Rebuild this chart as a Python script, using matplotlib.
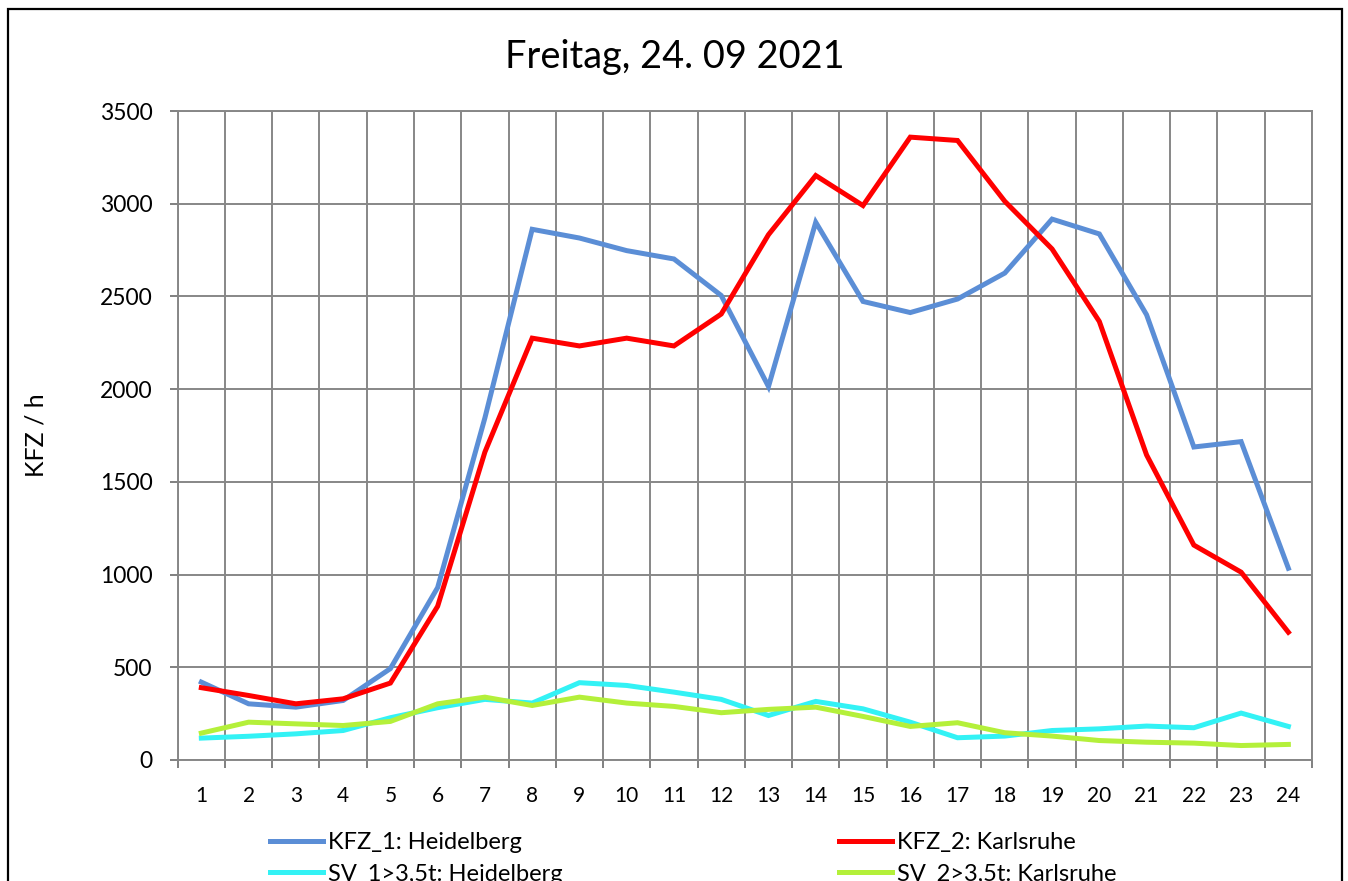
import matplotlib.pyplot as plt
from matplotlib.patches import Rectangle

plt.rcParams['font.family'] = ['Lato', 'DejaVu Sans']

hours = list(range(1, 25))
kfz_heidelberg = [420, 303, 285, 321, 493, 930, 1845, 2862, 2815, 2747, 2702, 2505,
                  2014, 2900, 2473, 2413, 2486, 2626, 2917, 2837, 2401, 1688, 1717, 1034]
kfz_karlsruhe = [390, 348, 303, 330, 415, 829, 1661, 2275, 2233, 2275, 2233, 2405,
                 2833, 3152, 2990, 3359, 3341, 3013, 2756, 2365, 1645, 1159, 1013, 689]
sv_heidelberg = [118, 128, 141, 159, 228, 282, 327, 307, 417, 402, 366, 327,
                 240, 316, 276, 204, 120, 129, 159, 168, 183, 174, 253, 181]
sv_karlsruhe = [145, 204, 195, 186, 208, 303, 339, 294, 339, 307, 289, 255,
                273, 285, 235, 181, 201, 147, 129, 105, 96, 91, 78, 84]

labels = ['KFZ_1: Heidelberg', 'KFZ_2: Karlsruhe',
          'SV_1>3,5t: Heidelberg', 'SV_2>3,5t: Karlsruhe']
colors = ['#5B8ED6', '#FF0000', '#33F2F5', '#B4F03A']

W, H = 1348, 881
fig = plt.figure(figsize=(W / 100, H / 100), dpi=100)
ax = fig.add_axes([177.7 / W, 1 - 760 / H, (1312 - 177.7) / W, (760 - 111) / H])

series = [kfz_heidelberg, kfz_karlsruhe, sv_heidelberg, sv_karlsruhe]
handles = []
for vals, c, lab in zip(series, colors, labels):
    ln, = ax.plot(hours, vals, color=c, lw=3.6, label=lab, solid_joinstyle='miter')
    handles.append(ln)

ax.set_xlim(0.5, 24.5)
ax.set_ylim(0, 3500)
ax.set_yticks(range(0, 3501, 500))
ax.set_xticks([h + 0.5 for h in range(0, 25)])
ax.set_xticklabels([])
ax.set_xticks(hours, minor=True)
ax.set_xticklabels([str(h) for h in hours], minor=True)
ax.tick_params(axis='x', which='major', length=6, width=1.4, color='#808080')
ax.tick_params(axis='x', which='minor', length=0, pad=19, labelsize=15)
ax.tick_params(axis='y', length=6, width=1.4, color='#808080', pad=12, labelsize=16.5)
ax.grid(True, which='major', color='#878787', lw=1.4)
ax.set_axisbelow(True)
for s in ax.spines.values():
    s.set_color('#878787')
    s.set_linewidth(1.4)
ax.set_ylabel('KFZ / h', fontsize=18)
ax.yaxis.set_label_coords((47 - 177.7) / (1312 - 177.7), 0.5)

fig.text(675 / W, 1 - 57 / H, 'Freitag, 24. 09 2021', fontsize=27.3,
         ha='center', va='center')

order = [handles[0], handles[2], handles[1], handles[3]]
fig.legend(order, [h.get_label() for h in order], ncol=2, frameon=False,
           loc='upper left', bbox_to_anchor=(270 / W, 1 - 832 / H),
           fontsize=17, handlelength=2.25, handletextpad=0.2,
           columnspacing=11.7, labelspacing=0.45, borderaxespad=0, borderpad=0)

fig.add_artist(Rectangle((8 / W, -0.05), (1342 - 8) / W, 1.05 - 9 / H,
                         transform=fig.transFigure, fill=False,
                         edgecolor='black', lw=1.6))

fig.savefig('out.png', dpi=100)
